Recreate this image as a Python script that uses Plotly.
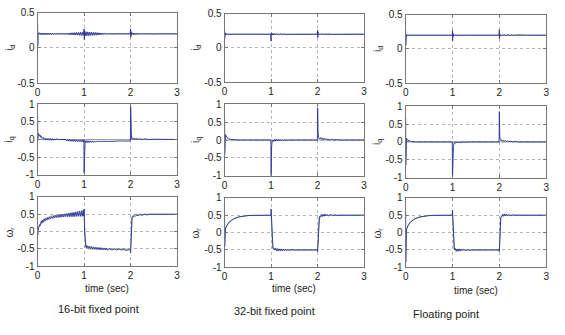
import plotly.graph_objects as go

W, H = 565, 335

# ---------------- data: (time [s], value) samples ----------------
ID_REF = [(0.0, 0.2), (3.0, 0.2)]
IQ_REF = [(0.0, 0.0), (3.0, 0.0)]
W_REF = [(0, 0), (0.02, 0.12), (0.05, 0.2), (0.1, 0.3), (0.15, 0.36), (0.2, 0.4), (0.3, 0.45),
         (0.4, 0.475), (0.5, 0.49), (0.6, 0.495), (0.7, 0.5), (1.0, 0.5), (1.01, 0.2), (1.02, -0.2),
         (1.03, -0.4), (1.05, -0.47), (1.1, -0.5), (2.0, -0.5), (2.01, -0.2), (2.02, 0.2),
         (2.03, 0.4), (2.05, 0.47), (2.1, 0.5), (3.0, 0.5)]

ID_16 = [(0.000, 0.35), (0.003, 0.03), (0.006, 0.26), (0.010, 0.18), (0.020, 0.21),
         (0.04, 0.215), (0.06, 0.187), (0.08, 0.213), (0.10, 0.188), (0.12, 0.212), (0.14, 0.189),
         (0.16, 0.212), (0.18, 0.189), (0.20, 0.211), (0.22, 0.19), (0.24, 0.21), (0.26, 0.19),
         (0.28, 0.21), (0.30, 0.191), (0.32, 0.209), (0.34, 0.192), (0.36, 0.208), (0.38, 0.193),
         (0.40, 0.207), (0.42, 0.194), (0.44, 0.206), (0.46, 0.196), (0.50, 0.201), (0.60, 0.199),
         (0.64, 0.206), (0.66, 0.19), (0.68, 0.212), (0.70, 0.187), (0.72, 0.215), (0.74, 0.186),
         (0.76, 0.216), (0.78, 0.184), (0.80, 0.218), (0.82, 0.183), (0.84, 0.219), (0.86, 0.182),
         (0.88, 0.22), (0.90, 0.18), (0.92, 0.222), (0.94, 0.178), (0.96, 0.224), (0.98, 0.177),
         (1.000, 0.27), (1.004, 0.12), (1.01, 0.24), (1.02, 0.17), (1.04, 0.23), (1.06, 0.172),
         (1.08, 0.228), (1.10, 0.174), (1.12, 0.226), (1.14, 0.176), (1.16, 0.224), (1.18, 0.178),
         (1.20, 0.222), (1.22, 0.18), (1.24, 0.22), (1.26, 0.182), (1.28, 0.218), (1.30, 0.184),
         (1.32, 0.215), (1.34, 0.187), (1.36, 0.212), (1.38, 0.19), (1.40, 0.21), (1.42, 0.192),
         (1.44, 0.207), (1.46, 0.194), (1.48, 0.205), (1.50, 0.196), (1.55, 0.203), (1.60, 0.198),
         (1.70, 0.201), (1.85, 0.199), (1.99, 0.2),
         (2.000, 0.27), (2.004, 0.15), (2.01, 0.23), (2.02, 0.185), (2.04, 0.215), (2.06, 0.188),
         (2.08, 0.212), (2.10, 0.19), (2.12, 0.21), (2.14, 0.192), (2.16, 0.208), (2.18, 0.193),
         (2.20, 0.207), (2.22, 0.194), (2.24, 0.206), (2.26, 0.195), (2.28, 0.205), (2.30, 0.196),
         (2.34, 0.204), (2.38, 0.197), (2.42, 0.203), (2.46, 0.198), (2.50, 0.202), (2.56, 0.199),
         (2.62, 0.201), (3.0, 0.2)]

IQ_16 = [(0.000, 0.65), (0.003, -0.02), (0.007, 0.3), (0.012, 0.12), (0.02, 0.17), (0.03, 0.14),
         (0.04, 0.15), (0.05, 0.09), (0.06, 0.12), (0.07, 0.06), (0.08, 0.09), (0.10, 0.03),
         (0.12, 0.06), (0.14, 0.0), (0.16, 0.04), (0.18, -0.01), (0.20, 0.035), (0.22, -0.015),
         (0.24, 0.03), (0.26, -0.02), (0.28, 0.03), (0.30, -0.02), (0.32, 0.025), (0.34, -0.02),
         (0.36, 0.02), (0.38, -0.015), (0.40, 0.02), (0.45, 0.0), (0.50, 0.005), (0.55, -0.01),
         (0.60, 0.0), (0.62, -0.04), (0.64, 0.0), (0.66, -0.045), (0.68, 0.0), (0.70, -0.05),
         (0.72, -0.005), (0.74, -0.05), (0.76, -0.005), (0.78, -0.055), (0.80, -0.005),
         (0.82, -0.055), (0.84, -0.01), (0.86, -0.06), (0.88, -0.01), (0.90, -0.06), (0.92, -0.01),
         (0.94, -0.065), (0.96, -0.01), (0.98, -0.07), (0.995, -0.01),
         (1.000, -0.95), (1.004, -0.5), (1.01, -0.1), (1.02, -0.03), (1.04, -0.09), (1.06, -0.03),
         (1.08, -0.09), (1.10, -0.035), (1.12, -0.085), (1.14, -0.035), (1.16, -0.08), (1.18, -0.04),
         (1.20, -0.08), (1.22, -0.04), (1.24, -0.075), (1.26, -0.045), (1.28, -0.07), (1.30, -0.045),
         (1.35, -0.06), (1.40, -0.05), (1.50, -0.055), (1.60, -0.045), (1.70, -0.05), (1.80, -0.04),
         (1.90, -0.045), (1.995, -0.04),
         (2.000, 0.95), (2.004, 0.5), (2.01, 0.1), (2.02, 0.02), (2.04, 0.05), (2.06, 0.0),
         (2.08, 0.04), (2.10, 0.0), (2.12, 0.035), (2.14, -0.005), (2.16, 0.03), (2.18, -0.005),
         (2.20, 0.025), (2.25, 0.0), (2.30, 0.02), (2.40, 0.0), (2.50, 0.01), (2.70, 0.0), (3.0, 0.0)]

W_16 = [(0.000, -0.05), (0.005, -0.1), (0.01, 0.05), (0.02, 0.12), (0.03, 0.1), (0.04, 0.2),
        (0.05, 0.16), (0.06, 0.25), (0.07, 0.2), (0.08, 0.3), (0.09, 0.24), (0.10, 0.33),
        (0.12, 0.27), (0.14, 0.36), (0.16, 0.3), (0.18, 0.38), (0.20, 0.33), (0.22, 0.4),
        (0.24, 0.35), (0.26, 0.42), (0.28, 0.37), (0.30, 0.43), (0.32, 0.38), (0.34, 0.45),
        (0.36, 0.39), (0.38, 0.46), (0.40, 0.4), (0.42, 0.47), (0.44, 0.41), (0.46, 0.48),
        (0.48, 0.41), (0.50, 0.49), (0.52, 0.42), (0.54, 0.5), (0.56, 0.42), (0.58, 0.51),
        (0.60, 0.43), (0.62, 0.52), (0.64, 0.43), (0.66, 0.53), (0.68, 0.43), (0.70, 0.54),
        (0.72, 0.43), (0.74, 0.55), (0.76, 0.43), (0.78, 0.56), (0.80, 0.43), (0.82, 0.57),
        (0.84, 0.44), (0.86, 0.58), (0.88, 0.44), (0.90, 0.59), (0.92, 0.44), (0.94, 0.6),
        (0.96, 0.44), (0.98, 0.62), (0.995, 0.45), (1.0, 0.65),
        (1.01, 0.0), (1.02, -0.3), (1.03, -0.38), (1.04, -0.45), (1.05, -0.4), (1.06, -0.47),
        (1.08, -0.41), (1.10, -0.48), (1.12, -0.42), (1.14, -0.49), (1.16, -0.43), (1.18, -0.5),
        (1.20, -0.44), (1.22, -0.5), (1.24, -0.45), (1.26, -0.51), (1.28, -0.45), (1.30, -0.51),
        (1.32, -0.46), (1.34, -0.52), (1.36, -0.46), (1.38, -0.52), (1.40, -0.47), (1.42, -0.52),
        (1.44, -0.47), (1.46, -0.53), (1.48, -0.48), (1.50, -0.53), (1.55, -0.49), (1.60, -0.53),
        (1.65, -0.5), (1.70, -0.53), (1.75, -0.5), (1.80, -0.53), (1.85, -0.51), (1.90, -0.54),
        (1.95, -0.52), (1.995, -0.53), (2.0, -0.6),
        (2.01, 0.0), (2.02, 0.3), (2.03, 0.4), (2.04, 0.43), (2.06, 0.42), (2.08, 0.46),
        (2.10, 0.44), (2.12, 0.47), (2.14, 0.45), (2.16, 0.48), (2.18, 0.46), (2.20, 0.49),
        (2.25, 0.47), (2.30, 0.5), (2.35, 0.48), (2.40, 0.5), (2.50, 0.49), (2.60, 0.5),
        (2.80, 0.5), (3.0, 0.5)]

ID_32 = [(0.000, 0.26), (0.002, 0.14), (0.004, 0.25), (0.006, 0.15), (0.008, 0.24), (0.01, 0.17),
         (0.015, 0.22), (0.02, 0.19), (0.03, 0.205), (0.05, 0.2), (0.99, 0.2),
         (1.000, 0.1), (1.003, 0.22), (1.006, 0.14), (1.01, 0.21), (1.02, 0.185), (1.04, 0.212),
         (1.06, 0.19), (1.08, 0.21), (1.10, 0.192), (1.12, 0.208), (1.14, 0.193), (1.16, 0.206),
         (1.18, 0.195), (1.20, 0.205), (1.24, 0.196), (1.28, 0.204), (1.32, 0.197), (1.36, 0.202),
         (1.40, 0.199), (1.99, 0.2),
         (2.000, 0.26), (2.003, 0.15), (2.006, 0.23), (2.01, 0.19), (2.02, 0.21), (2.04, 0.192),
         (2.06, 0.208), (2.08, 0.194), (2.10, 0.206), (2.14, 0.195), (2.18, 0.205), (2.22, 0.196),
         (2.26, 0.204), (2.30, 0.197), (2.36, 0.202), (2.42, 0.199), (3.0, 0.2)]

IQ_32 = [(0.000, 0.65), (0.002, -0.4), (0.004, 0.5), (0.006, -0.3), (0.008, 0.4), (0.01, -0.1),
         (0.013, 0.25), (0.016, 0.05), (0.02, 0.15), (0.03, 0.1), (0.05, 0.07), (0.08, 0.04),
         (0.12, 0.02), (0.2, 0.01), (0.3, 0.0), (0.995, 0.0),
         (1.000, -1.0), (1.005, -0.6), (1.01, -0.2), (1.02, -0.06), (1.04, 0.0), (1.06, -0.04),
         (1.08, 0.02), (1.10, -0.03), (1.12, 0.02), (1.14, -0.03), (1.16, 0.015), (1.18, -0.025),
         (1.20, 0.01), (1.22, -0.02), (1.24, 0.01), (1.26, -0.015), (1.30, 0.005), (1.35, -0.01),
         (1.40, 0.0), (1.995, 0.0),
         (2.000, 0.9), (2.005, 0.5), (2.01, 0.2), (2.02, 0.07), (2.04, 0.03), (2.06, 0.07),
         (2.08, 0.02), (2.10, 0.06), (2.12, 0.015), (2.14, 0.05), (2.16, 0.01), (2.18, 0.04),
         (2.20, 0.005), (2.22, 0.03), (2.26, 0.0), (2.30, 0.02), (2.35, 0.0), (2.40, 0.01),
         (2.5, 0.0), (3.0, 0.0)]

W_32 = [(0.000, 0.4), (0.002, -0.4), (0.004, 0.3), (0.006, -0.3), (0.008, 0.25), (0.01, -0.1),
        (0.013, 0.15), (0.016, 0.02), (0.02, 0.12), (0.04, 0.18), (0.06, 0.23), (0.1, 0.3),
        (0.15, 0.36), (0.2, 0.4), (0.3, 0.45), (0.4, 0.475), (0.5, 0.49), (0.6, 0.495),
        (0.7, 0.5), (0.995, 0.5),
        (1.0, 0.68), (1.01, 0.3), (1.02, -0.2), (1.03, -0.4), (1.04, -0.46), (1.06, -0.44),
        (1.08, -0.5), (1.10, -0.45), (1.12, -0.53), (1.14, -0.46), (1.16, -0.53), (1.18, -0.47),
        (1.20, -0.53), (1.22, -0.47), (1.24, -0.52), (1.26, -0.48), (1.28, -0.52), (1.30, -0.48),
        (1.33, -0.52), (1.36, -0.49), (1.40, -0.51), (1.45, -0.49), (1.50, -0.505), (1.6, -0.5),
        (1.995, -0.5),
        (2.0, -0.55), (2.01, -0.2), (2.02, 0.2), (2.03, 0.4), (2.04, 0.46), (2.06, 0.44),
        (2.08, 0.52), (2.10, 0.46), (2.12, 0.53), (2.14, 0.47), (2.16, 0.53), (2.18, 0.48),
        (2.20, 0.52), (2.24, 0.48), (2.28, 0.52), (2.32, 0.49), (2.36, 0.51), (2.40, 0.495),
        (2.5, 0.5), (3.0, 0.5)]

ID_FL = [(0.000, 0.27), (0.002, 0.05), (0.004, 0.25), (0.006, 0.12), (0.008, 0.23), (0.012, 0.17),
         (0.02, 0.205), (0.03, 0.2), (0.995, 0.2),
         (1.000, 0.27), (1.003, 0.12), (1.006, 0.23), (1.01, 0.18), (1.02, 0.21), (1.04, 0.192),
         (1.06, 0.207), (1.08, 0.195), (1.10, 0.204), (1.14, 0.197), (1.18, 0.202), (1.25, 0.2),
         (1.995, 0.2),
         (2.000, 0.28), (2.003, 0.15), (2.006, 0.23), (2.01, 0.19), (2.02, 0.21), (2.04, 0.193),
         (2.06, 0.207), (2.08, 0.194), (2.10, 0.206), (2.14, 0.195), (2.18, 0.205), (2.22, 0.196),
         (2.26, 0.204), (2.30, 0.197), (2.36, 0.203), (2.42, 0.198), (2.50, 0.202), (2.58, 0.199),
         (3.0, 0.2)]

IQ_FL = [(0.000, 0.65), (0.002, -0.65), (0.004, 0.5), (0.006, -0.4), (0.008, 0.35), (0.01, -0.15),
         (0.013, 0.2), (0.016, 0.0), (0.02, 0.1), (0.03, 0.06), (0.05, 0.05), (0.08, 0.03),
         (0.12, 0.01), (0.2, 0.0), (0.995, 0.0),
         (1.000, -1.0), (1.005, -0.5), (1.01, -0.25), (1.02, -0.12), (1.03, -0.06), (1.04, -0.01),
         (1.06, -0.04), (1.08, 0.0), (1.10, -0.03), (1.12, 0.0), (1.14, -0.025), (1.16, 0.0),
         (1.18, -0.02), (1.22, 0.0), (1.26, -0.01), (1.32, 0.0), (1.995, 0.0),
         (2.000, 0.85), (2.005, 0.4), (2.01, 0.15), (2.02, 0.07), (2.03, 0.04), (2.05, 0.06),
         (2.07, 0.02), (2.09, 0.05), (2.11, 0.015), (2.13, 0.04), (2.15, 0.01), (2.17, 0.035),
         (2.20, 0.01), (2.24, 0.025), (2.28, 0.0), (2.32, 0.015), (2.40, 0.0), (3.0, 0.0)]

W_FL = [(0.000, 0.6), (0.002, -0.85), (0.004, 0.4), (0.006, -0.6), (0.008, 0.25), (0.01, -0.3),
        (0.013, 0.1), (0.016, -0.05), (0.02, 0.1), (0.04, 0.18), (0.06, 0.23), (0.1, 0.3),
        (0.15, 0.36), (0.2, 0.4), (0.3, 0.45), (0.4, 0.475), (0.5, 0.49), (0.6, 0.495),
        (0.7, 0.5), (0.995, 0.5),
        (1.0, 0.65), (1.01, 0.2), (1.02, -0.3), (1.03, -0.45), (1.04, -0.5), (1.06, -0.46),
        (1.08, -0.54), (1.10, -0.47), (1.12, -0.54), (1.14, -0.47), (1.16, -0.53), (1.18, -0.48),
        (1.20, -0.52), (1.24, -0.48), (1.28, -0.52), (1.32, -0.49), (1.36, -0.51), (1.40, -0.5),
        (1.995, -0.5),
        (2.0, -0.55), (2.01, -0.1), (2.02, 0.3), (2.03, 0.44), (2.05, 0.47), (2.07, 0.53),
        (2.09, 0.47), (2.11, 0.54), (2.13, 0.48), (2.15, 0.53), (2.17, 0.48), (2.20, 0.52),
        (2.24, 0.49), (2.28, 0.51), (2.32, 0.5), (3.0, 0.5)]

COLUMN_TITLES = ["16-bit fixed point", "32-bit fixed point", "Floating point"]
ROW_LABELS = ["i<sub>d</sub>", "i<sub>q</sub>", "ω<sub>r</sub>"]
X_TICKS = [0, 1, 2, 3]
Y_TICKS_ID = [-0.5, 0, 0.5]
Y_TICKS_IQ = [-1, -0.5, 0, 0.5, 1]

PANELS = [
    [(ID_REF, ID_16), (IQ_REF, IQ_16), (W_REF, W_16)],
    [(ID_REF, ID_32), (IQ_REF, IQ_32), (W_REF, W_32)],
    [(ID_REF, ID_FL), (IQ_REF, IQ_FL), (W_REF, W_FL)],
]

# ---------------- layout geometry (pixels) ----------------
COL_X = [(35, 176), (224, 365), (407, 549)]
ROW_Y = [
    [(7, 80), (102, 175), (198, 270)],
    [(8, 79), (102, 176), (199, 271)],
    [(9, 80), (104, 178), (199, 271)],
]
YLABEL_X = [7, 195, 379]
XLABEL_Y = [293, 293, 295]
TITLE_POS = [(97, 314), (274, 316), (448, 319)]

BLUE = "#283296"
REF = "#8ea596"
FRAME = "#777777"
FONT = "Liberation Sans, Arial, sans-serif"


def fx(px):
    return px / W


def fy(py):
    return 1 - py / H


fig = go.Figure()
layout = dict(width=W, height=H, margin=dict(l=0, r=0, t=0, b=0),
              paper_bgcolor="white", plot_bgcolor="white", showlegend=False,
              font=dict(family=FONT, size=10, color="#222"))
annotations = []


def label(text, px, py, size=10, angle=0):
    return dict(text=text, x=fx(px), y=fy(py), xref="paper", yref="paper",
                xanchor="center", yanchor="middle", showarrow=False, textangle=angle,
                font=dict(family=FONT, size=size, color="#222"))


k = 0
for c in range(3):
    for r in range(3):
        k += 1
        sfx = "" if k == 1 else str(k)
        ref_pts, sig_pts = PANELS[c][r]
        for pts, color, width in ((ref_pts, REF, 1.0), (sig_pts, BLUE, 0.9)):
            fig.add_trace(go.Scatter(
                x=[p[0] for p in pts], y=[p[1] for p in pts], mode="lines",
                line=dict(color=color, width=width), xaxis="x" + sfx, yaxis="y" + sfx,
                hoverinfo="skip"))
        x0, x1 = COL_X[c]
        y0, y1 = ROW_Y[c][r]
        common = dict(showline=True, mirror="ticks", linecolor=FRAME, linewidth=1,
                      ticks="inside", ticklen=3, tickcolor=FRAME, showgrid=True,
                      gridcolor="#b5b5b5", griddash="dot", gridwidth=1, zeroline=False,
                      tickfont=dict(family=FONT, size=10, color="#222"), fixedrange=True)
        layout["xaxis" + sfx] = dict(common, domain=[fx(x0), fx(x1)], range=[0, 3],
                                     tickvals=X_TICKS, ticktext=[str(v) for v in X_TICKS],
                                     anchor="y" + sfx)
        yt = Y_TICKS_ID if r == 0 else Y_TICKS_IQ
        yr = [-0.5, 0.5] if r == 0 else [-1, 1]
        layout["yaxis" + sfx] = dict(common, domain=[fy(y1), fy(y0)], range=yr,
                                     tickvals=yt, ticktext=[f"{v:g}" for v in yt],
                                     anchor="x" + sfx)
        annotations.append(label(ROW_LABELS[r], YLABEL_X[c], (y0 + y1) / 2, angle=-90))
    annotations.append(label("time (sec)", (COL_X[c][0] + COL_X[c][1]) / 2, XLABEL_Y[c]))
    annotations.append(label(COLUMN_TITLES[c], TITLE_POS[c][0], TITLE_POS[c][1], size=11))

layout["annotations"] = annotations
fig.update_layout(**layout)
fig.write_html("out.html")
